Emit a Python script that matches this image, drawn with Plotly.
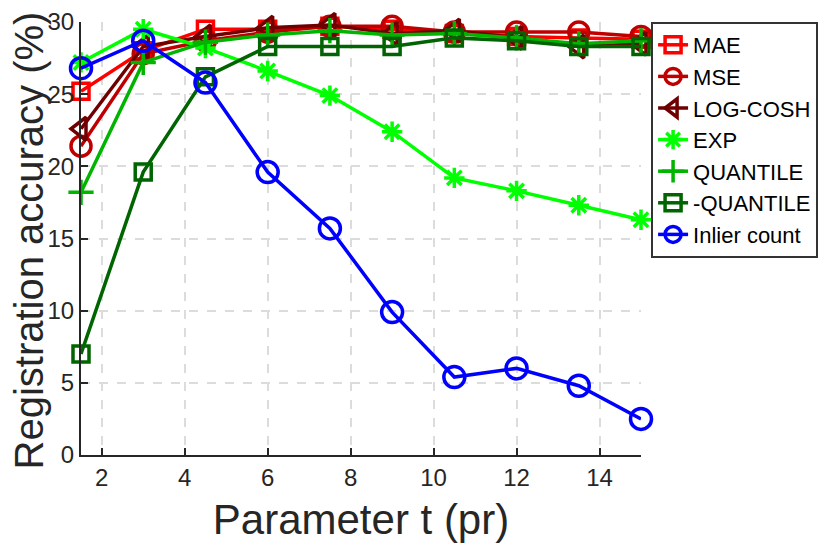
import plotly.graph_objects as go

# parameter t values
t_values = [1.5, 3, 4.5, 6, 7.5, 9, 10.5, 12, 13.5, 15]

# registration accuracy (%) for each loss
mae = [25.2, 28.0, 29.5, 29.5, 29.7, 29.5, 29.2, 29.0, 28.9, 28.8]
mse = [21.4, 27.8, 28.7, 29.3, 29.7, 29.7, 29.3, 29.3, 29.3, 29.0]
log_cosh = [22.6, 28.3, 29.0, 29.6, 29.8, 29.2, 29.4, 28.9, 28.3, 28.5]
exp_loss = [27.2, 29.5, 28.2, 26.6, 24.9, 22.4, 19.2, 18.3, 17.3, 16.3]
quantile = [18.2, 27.2, 28.6, 29.1, 29.4, 29.1, 29.2, 28.9, 28.5, 28.7]
neg_quantile = [7.0, 19.6, 26.2, 28.3, 28.3, 28.3, 28.9, 28.7, 28.3, 28.3]
inlier_count = [26.8, 28.7, 25.8, 19.6, 15.7, 9.9, 5.4, 6.0, 4.8, 2.5]

x_ticks = [2, 4, 6, 8, 10, 12, 14]
y_ticks = [0, 5, 10, 15, 20, 25, 30]

series = [
    ("MAE", mae, "#ff0000", "square-open", 16),
    ("MSE", mse, "#c00000", "circle-open", 20),
    ("LOG-COSH", log_cosh, "#700000", "triangle-left-open", 20),
    ("EXP", exp_loss, "#00ff00", "asterisk-open", 17),
    ("QUANTILE", quantile, "#00b400", "cross-thin-open", 18),
    ("-QUANTILE", neg_quantile, "#006400", "square-open", 16),
    ("Inlier count", inlier_count, "#0000ff", "circle-open", 21),
]

fig = go.Figure()
for name, vals, col, sym, size in series:
    fig.add_trace(go.Scatter(
        x=t_values, y=vals, name=name, mode="lines+markers",
        line=dict(color=col, width=3.5),
        marker=dict(symbol=sym, size=size, color=col, line=dict(color=col, width=3.5)),
        cliponaxis=False,
    ))

font_family = "Liberation Sans, Arial, sans-serif"

# page body adds an 8px offset, so the figure is a bit smaller than the window
fig.update_layout(
    width=822, height=543,
    margin=dict(l=73, r=182, t=14, b=96),
    plot_bgcolor="white", paper_bgcolor="white",
    font=dict(family=font_family, color="#262626"),
    showlegend=True,
    legend=dict(
        x=1.018, y=1.0, xanchor="left", yanchor="top",
        bordercolor="#333333", borderwidth=2, bgcolor="white",
        font=dict(size=22, color="black"),
        tracegroupgap=0, itemwidth=30,
    ),
)

# y title as annotation so it can sit close to the left edge
fig.add_annotation(
    text="Registration accuracy (%)", textangle=-90,
    xref="paper", yref="paper", x=0, y=0.5,
    xanchor="center", yanchor="middle", xshift=-53, yshift=-2,
    showarrow=False, font=dict(size=40, color="#262626"),
)

fig.update_xaxes(
    range=[1.5, 15], tickvals=x_ticks, automargin=False,
    showline=True, linecolor="#262626", linewidth=2,
    ticks="inside", ticklen=7, tickwidth=2, tickcolor="#262626",
    showgrid=True, gridcolor="#dcdcdc", griddash="dash", gridwidth=2,
    zeroline=False, tickfont=dict(size=24),
    title=dict(text="Parameter t (pr)", font=dict(size=42)),
)
fig.update_yaxes(
    range=[0, 30], tickvals=y_ticks, automargin=False,
    showline=True, linecolor="#262626", linewidth=2,
    ticks="inside", ticklen=7, tickwidth=2, tickcolor="#262626",
    showgrid=True, gridcolor="#dcdcdc", griddash="dash", gridwidth=2,
    zeroline=False, tickfont=dict(size=24),
)

fig.write_html("out.html")
